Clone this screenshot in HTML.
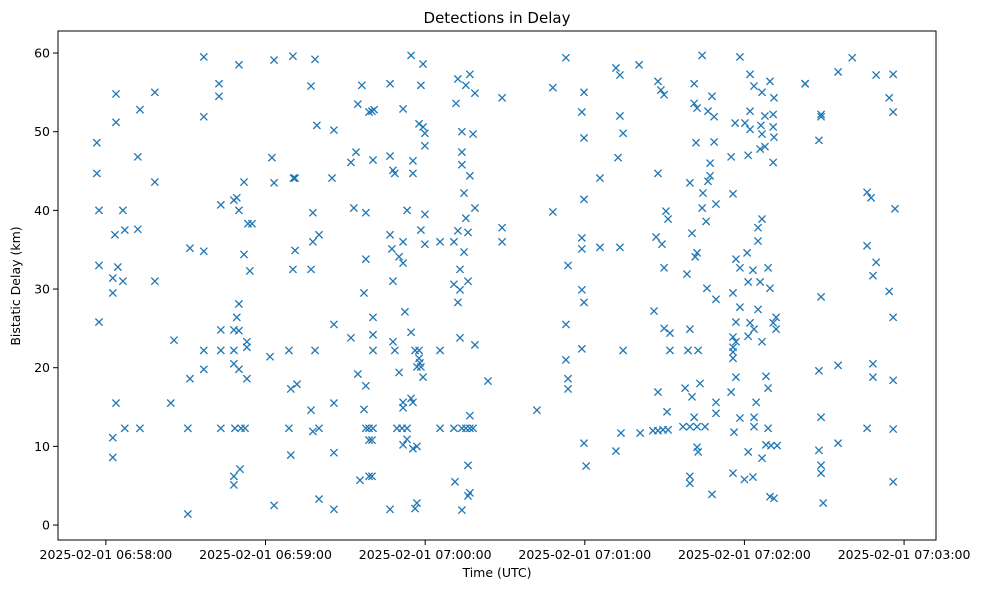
<!DOCTYPE html>
<html><head><meta charset="utf-8"><style>
body{margin:0;background:#fff;}
svg{display:block;font-family:"DejaVu Sans","Liberation Sans",sans-serif;}
</style></head><body>
<svg id="chart" width="986" height="590" viewBox="0 0 986 590">
<rect x="0" y="0" width="986" height="590" fill="#fff"/>
<text x="497" y="23" text-anchor="middle" font-size="15" fill="#000">Detections in Delay</text>
<text x="497" y="577" text-anchor="middle" font-size="12.5" fill="#000">Time (UTC)</text>
<text transform="translate(20,286) rotate(-90)" text-anchor="middle" font-size="12.5" fill="#000">Bistatic Delay (km)</text>
<g id="ticks"></g>
<g id="marks"></g>
<rect x="58" y="31" width="878" height="509" fill="none" stroke="#000" stroke-width="1"/>
</svg>
<script>
// seconds since 2025-02-01 06:58:00 UTC
const times = [36.8,3.8,18.4,12.8,3.8,36.8,-3.4,12.0,-3.4,18.4,-2.6,6.4,3.4,7.1,12.0,31.6,36.8,-2.6,4.5,2.6,6.4,18.4,2.6,-2.6,25.6,36.8,36.8,31.6,3.8,24.4,7.1,12.8,30.8,2.6,2.6,30.8,
42.5,42.5,50.0,63.2,70.3,78.6,77.1,96.2,94.7,98.9,79.3,85.7,62.4,94.0,92.1,51.9,63.2,71.1,70.5,85.0,43.2,49.2,48.1,50.0,77.8,93.2,97.7,53.4,54.9,80.1,77.8,51.9,71.1,97.7,54.1,70.3,77.1,97.0,50.0,49.2,43.2,48.1,50.0,85.7,92.1,53.0,53.0,43.2,48.1,61.7,68.8,78.6,48.1,50.0,53.0,94.7,97.7,69.5,71.8,77.1,85.7,97.0,43.2,48.5,50.8,52.3,68.8,77.8,80.1,97.7,98.9,69.5,85.7,50.4,48.1,48.1,95.5,98.9,63.2,80.1,85.7,
114.7,119.2,106.8,118.4,132.3,136.8,135.3,138.7,148.9,131.6,100.0,100.8,111.7,117.7,119.2,119.9,133.8,138.0,119.9,100.4,106.8,115.4,133.8,107.9,108.6,115.4,133.8,136.8,134.6,113.2,119.9,138.7,135.3,148.9,148.9,106.8,118.4,132.3,136.1,111.7,119.9,125.6,130.8,134.6,107.5,110.2,111.7,133.1,107.9,130.8,136.1,133.1,132.3,112.4,100.4,100.4,114.7,107.9,133.1,138.7,100.4,108.6,116.2,117.7,125.6,117.7,118.0,116.9,118.4,119.2,110.2,143.6,111.7,111.7,114.7,115.4,136.8,98.9,100.4,109.4,111.3,113.2,125.6,130.8,133.8,135.3,136.8,138.0,100.0,113.2,111.7,115.4,116.9,136.1,100.0,131.2,136.1,136.8,106.8,116.2,116.9,133.8,
172.9,191.7,193.2,200.4,207.5,208.6,209.8,168.0,179.7,178.9,193.2,194.4,179.7,192.5,185.7,207.5,179.7,168.0,210.5,211.3,178.9,178.9,185.7,193.2,206.8,209.0,173.7,209.8,178.9,179.7,206.0,172.9,209.8,178.9,194.4,172.9,173.7,173.7,207.5,162.0,210.9,193.6,200.8,205.6,207.5,209.4,211.3,179.7,191.7,180.5,
224.1,238.3,242.1,243.6,249.6,262.8,246.6,251.1,221.1,227.8,221.1,222.2,226.3,228.6,242.1,236.5,240.2,242.1,247.7,250.8,246.2,250.8,246.6,251.1,245.9,247.7,250.8,221.8,228.6,235.0,241.4,227.1,227.1,226.3,219.5,224.4,235.7,224.1,229.3,225.6,220.3,246.6,245.1,245.1,222.2,221.5,236.8,241.0,238.3,243.2,248.9,218.4,241.4,245.9,249.6,225.9,229.3,235.7,238.3,245.1,251.9,250.8,251.9,236.8,242.1,243.6,241.4,235.7,236.8,235.7,235.7,235.7,246.6,212.0,219.5,212.0,218.8,222.6,236.8,248.1,248.9,223.3,217.7,220.3,235.0,229.3,229.3,244.4,221.1,243.6,243.6,238.3,216.9,219.5,222.2,225.2,236.1,248.9,222.2,222.6,241.4,246.6,248.1,250.0,252.3,219.5,219.5,235.7,240.0,243.2,227.8,249.6,251.1,
268.8,268.0,268.8,268.8,275.2,280.5,289.5,295.9,294.4,295.9,286.1,287.6,296.6,286.1,289.5,288.3,294.4,295.9,268.0,275.2,288.3,288.3,295.9,268.8,286.1,295.9,275.2,268.0,268.8,268.8,295.9,269.6,262.8];
const delays = [59.5,54.8,55.0,52.8,51.2,51.9,48.6,46.8,44.7,43.6,40.0,40.0,36.9,37.5,37.6,35.2,34.8,33.0,32.8,31.4,31.0,31.0,29.5,25.8,23.5,22.2,19.8,18.6,15.5,15.5,12.3,12.3,12.3,11.1,8.6,1.4,
56.1,54.5,58.5,59.1,59.6,59.2,55.8,55.9,53.5,52.5,50.8,50.2,46.7,47.4,46.1,43.6,43.5,44.1,44.1,44.1,40.7,41.6,41.3,40.0,39.7,40.3,39.7,38.3,38.3,36.9,36.0,34.4,34.9,33.8,32.3,32.5,32.5,29.5,28.1,26.4,24.8,24.8,24.7,25.5,23.8,23.3,22.6,22.2,22.2,21.4,22.2,22.2,20.5,19.8,18.6,19.2,17.7,17.3,17.9,14.6,15.5,14.7,12.3,12.3,12.3,12.3,12.3,11.9,12.3,12.3,10.8,8.9,9.2,7.1,6.2,5.1,5.7,6.2,2.5,3.3,2.0,
59.7,58.6,56.1,55.9,56.7,57.3,55.9,54.9,54.3,53.6,52.6,52.8,52.9,51.0,50.6,49.8,50.0,49.7,48.2,46.4,46.9,46.3,47.4,45.1,44.7,44.7,45.8,44.4,42.2,40.0,39.5,40.3,39.0,37.8,36.0,36.9,37.5,37.4,37.2,36.0,35.7,36.0,36.0,34.7,35.1,34.1,33.3,32.5,31.0,30.6,31.0,29.9,28.3,27.1,26.4,24.2,24.5,23.3,23.8,22.9,22.2,22.2,22.2,22.2,22.2,21.2,20.6,20.1,20.1,18.8,19.4,18.3,15.6,14.9,16.1,15.6,13.9,12.3,12.3,12.3,12.3,12.3,12.3,12.3,12.3,12.3,12.3,12.3,10.8,10.9,10.2,9.7,10.0,7.6,6.2,5.5,3.7,4.1,2.0,2.1,2.8,1.9,
59.4,58.1,57.2,58.5,56.4,55.3,54.7,55.6,55.0,52.5,52.0,49.8,49.2,46.7,44.1,44.7,41.4,39.8,39.9,38.9,36.5,35.1,35.3,35.3,36.6,35.7,33.0,32.7,29.9,28.3,27.2,25.5,25.0,22.4,22.2,21.0,18.6,17.3,16.9,14.6,14.4,11.7,11.7,12.0,12.0,12.1,12.1,10.4,9.4,7.5,
59.7,59.5,57.3,55.8,56.4,56.1,55.0,54.3,56.1,54.5,53.6,53.0,52.6,51.9,52.6,51.1,51.1,50.3,52.0,52.2,50.8,50.6,49.7,49.3,47.8,48.1,46.1,48.6,48.7,46.8,47.0,46.0,44.4,43.7,43.5,42.2,42.1,40.3,40.8,38.6,37.1,38.9,37.8,36.1,34.6,34.1,33.8,34.6,32.7,32.4,32.7,31.9,30.9,30.9,30.1,30.1,28.7,29.5,27.7,27.4,26.4,25.7,24.9,25.8,25.7,24.9,24.0,23.9,23.3,22.6,22.0,21.2,23.3,24.4,24.9,22.2,22.2,22.2,18.8,18.9,17.4,18.0,17.4,16.3,16.9,15.6,14.2,15.6,13.7,13.7,12.5,13.6,12.5,12.5,12.5,12.5,11.8,12.3,9.9,9.3,9.3,8.5,10.2,10.1,10.1,6.2,5.3,6.6,5.8,6.1,3.9,3.6,3.4,
51.9,48.9,52.2,29.0,57.6,59.4,57.2,57.3,54.3,52.5,42.3,41.6,40.2,35.5,33.4,31.7,29.7,26.4,19.6,20.3,20.5,18.8,18.4,13.7,12.3,12.2,10.4,9.5,7.6,6.6,5.5,2.8,56.1];
const xTickSecs = [0,60,120,180,240,300];
const xTickLabels = ["2025-02-01 06:58:00","2025-02-01 06:59:00","2025-02-01 07:00:00","2025-02-01 07:01:00","2025-02-01 07:02:00","2025-02-01 07:03:00"];
const yTicks = [0,10,20,30,40,50,60];

const NS="http://www.w3.org/2000/svg";
const X0=58,X1=936,Y0=31,Y1=540;
const xMin=-18.0,xMax=312.0,yMin=-1.9,yMax=62.8;
function xs(v){return X0+(v-xMin)/(xMax-xMin)*(X1-X0);}
function ys(v){return Y1-(v-yMin)/(yMax-yMin)*(Y1-Y0);}
const tg=document.getElementById('ticks');
xTickSecs.forEach((s,i)=>{
  const x=xs(s);
  const l=document.createElementNS(NS,'line');
  l.setAttribute('x1',x);l.setAttribute('x2',x);l.setAttribute('y1',Y1);l.setAttribute('y2',Y1+5);
  l.setAttribute('stroke','#000');
  
  
  tg.appendChild(l);
  const t=document.createElementNS(NS,'text');
  t.setAttribute('x',x);t.setAttribute('y',Y1+19);t.setAttribute('text-anchor','middle');t.setAttribute('font-size','12.5');
  t.textContent=xTickLabels[i];
  
  
  tg.appendChild(t);
});
yTicks.forEach(v=>{
  const y=ys(v);
  const l=document.createElementNS(NS,'line');
  l.setAttribute('x1',X0-5);l.setAttribute('x2',X0);l.setAttribute('y1',y);l.setAttribute('y2',y);
  l.setAttribute('stroke','#000');
  
  
  tg.appendChild(l);
  const t=document.createElementNS(NS,'text');
  t.setAttribute('x',X0-8);t.setAttribute('y',y+4.5);t.setAttribute('text-anchor','end');t.setAttribute('font-size','12.5');
  t.textContent=String(v);
  
  
  tg.appendChild(t);
});
const mg=document.getElementById('marks');
const n=Math.min(times.length,delays.length);
for(let i=0;i<n;i++){
  const cx=xs(times[i]),cy=ys(delays[i]),r=3.6;
  const p=document.createElementNS(NS,'path');
  p.setAttribute('d',`M${cx-r},${cy-r}L${cx+r},${cy+r}M${cx-r},${cy+r}L${cx+r},${cy-r}`);
  p.setAttribute('stroke','#1f77b4');p.setAttribute('stroke-width','1.3');p.setAttribute('fill','none');
  
  
  mg.appendChild(p);
}
</script>
</body></html>
